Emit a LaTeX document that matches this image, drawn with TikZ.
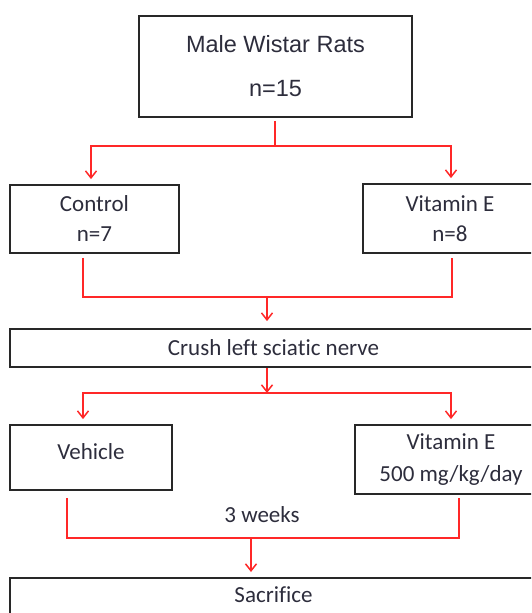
\documentclass[tikz,border=0pt]{standalone}
\usepackage{fontspec}
\setmainfont{Carlito}[Ligatures=NoCommon]
\newfontfamily\arialfont{Liberation Sans}
\usetikzlibrary{arrows.meta}
\definecolor{boxline}{RGB}{40,40,40}
\definecolor{linkred}{RGB}{255,40,40}
\definecolor{txt}{RGB}{45,45,60}

\begin{document}
\begin{tikzpicture}[x=1pt,y=-1pt,
  box/.style={draw=boxline,line width=1.8pt,inner sep=0pt,align=center,text=txt,font=\fontsize{23}{30}\selectfont},
  link/.style={draw=linkred,line width=1.5pt},
  arr/.style={link,-{Straight Barb[length=7pt,width=11pt,line width=1.5pt]}}]
  \useasboundingbox (0,0) rectangle (531,613);
  \clip (0,0) rectangle (531,613);

  %top
  \node[box,at={(275.5,66.5)},minimum width=273pt,minimum height=101pt,font=\arialfont\fontsize{23.5}{44}\selectfont] (rats) {Male Wistar Rats\\n=15};

  %groups
  \node[box,at={(94.5,219)},minimum width=169pt,minimum height=68pt] (ctrl) {Control\\n=7};
  \node[box,at={(450,218.5)},minimum width=174pt,minimum height=69pt] (vite) {Vitamin E\\n=8};
  \node[box,at={(273.5,348)},minimum width=527pt,minimum height=38pt] (crush) {Crush left sciatic nerve};

  %treatment
  \node[box,at={(91,457.5)},minimum width=162pt,minimum height=65pt,text depth=11pt] (veh) {Vehicle};
  \node[box,at={(451,459.5)},minimum width=192pt,minimum height=69pt,font=\fontsize{23}{32}\selectfont] (vitetwo) {Vitamin E\\500 mg/kg/day};
  \node[box,at={(273.5,577)},anchor=north,minimum width=527pt,text height=25pt,text depth=45pt] (sac) {Sacrifice};
  \node[text=txt,font=\fontsize{23}{30}\selectfont,at={(262,515)}] (wk) {3 weeks};

  %split 1
  \draw[link] ([xshift=-0.5pt,yshift=-3pt]rats.south) -- ++(0,25) coordinate (s1);
  \draw[arr] (s1) -| ([xshift=-3.5pt,yshift=5pt]ctrl.north);
  \draw[arr] (s1) -| ([xshift=1pt,yshift=5pt]vite.north);

  %merge 1
  \coordinate (m1) at (267,297);
  \draw[link] ([xshift=-11.5pt,yshift=-4pt]ctrl.south) |- (m1) -| ([xshift=2pt,yshift=-4pt]vite.south);
  \draw[arr] (m1) -- ([xshift=-6.5pt,yshift=7pt]crush.north);

  %split 2
  \coordinate (s2) at (267,393);
  \draw[arr] ([xshift=-6.5pt]crush.south) -- (s2);
  \draw[arr] (s2) -| ([xshift=-8pt,yshift=5pt]veh.north);
  \draw[arr] (s2) -| ([yshift=5pt]vitetwo.north);

  %merge 2
  \coordinate (m2) at (251,538);
  \draw[link] ([xshift=-24pt,yshift=-7pt]veh.south) |- (m2) -| ([xshift=8pt,yshift=-3pt]vitetwo.south);
  \draw[arr] (m2) -- ([xshift=-22.5pt,yshift=5pt]sac.north);
\end{tikzpicture}
\end{document}
